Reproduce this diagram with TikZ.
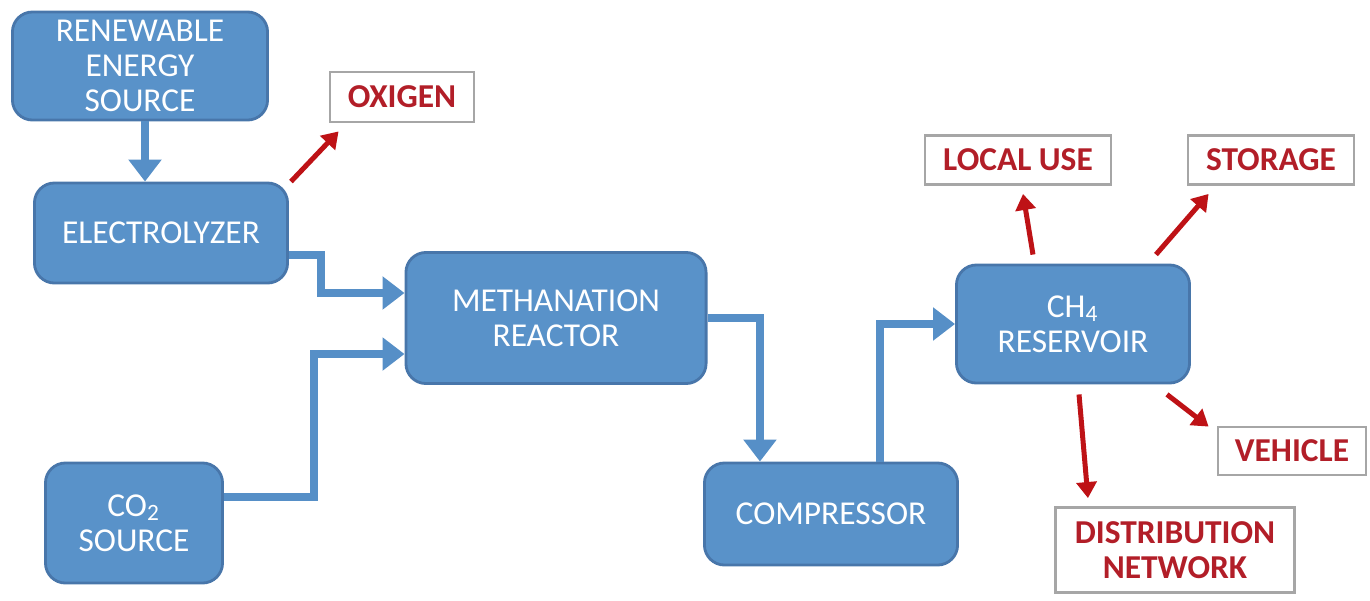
\documentclass[tikz,border=0pt]{standalone}
\usepackage{fontspec}
\setmainfont{Carlito}
\usepackage{tikz}
\usetikzlibrary{arrows.meta}
\definecolor{boxblue}{RGB}{89,146,201}
\definecolor{edgeblue}{RGB}{72,118,170}
\definecolor{flowblue}{RGB}{86,143,199}
\definecolor{prodred}{RGB}{190,18,22}
\definecolor{labred}{RGB}{178,30,40}

\begin{document}
\begin{tikzpicture}[x=0.01cm,y=-0.01cm,
    block/.style={draw=edgeblue,line width=0.8pt,fill=boxblue,rounded corners=0.2cm,
      text=white,align=center,inner sep=0pt,font=\fontsize{9.5}{9.9}\selectfont},
    product/.style={draw=gray!70,line width=0.8pt,fill=white,text=labred,align=center,
      inner sep=0pt,font=\bfseries\fontsize{9.5}{9.8}\selectfont},
    flow/.style={draw=flowblue,line width=0.085cm,-{Triangle[width=0.32cm,length=0.22cm]}},
    prod/.style={draw=prodred,line width=0.05cm,-{Triangle[width=0.2cm,length=0.16cm]}}]
  \useasboundingbox (0,0) rectangle (1370,600);
  \node[block,minimum width=2.55cm,minimum height=1.08cm] (renew) at (140,66) {RENEWABLE\\ENERGY\\SOURCE};
  \node[block,minimum width=2.53cm,minimum height=1.00cm] (elec) at (161,233) {ELECTROLYZER};
  \node[block,minimum width=3.00cm,minimum height=1.31cm] (meth) at (556,318) {METHANATION\\REACTOR};
  \node[block,minimum width=1.77cm,minimum height=1.20cm] (co2) at (134,523) {CO\textsubscript{2}\\SOURCE};
  \node[block,minimum width=2.53cm,minimum height=1.02cm] (comp) at (831,514) {COMPRESSOR};
  \node[block,minimum width=2.33cm,minimum height=1.18cm] (res) at (1073,324) {CH\textsubscript{4}\\RESERVOIR};
  \node[product,minimum width=1.44cm,minimum height=0.50cm] (oxy) at (402,97) {OXIGEN};
  \node[product,minimum width=1.86cm,minimum height=0.49cm] (local) at (1018,160) {LOCAL USE};
  \node[product,minimum width=1.66cm,minimum height=0.49cm] (stor) at (1271,160) {STORAGE};
  \node[product,minimum width=1.48cm,minimum height=0.48cm] (veh) at (1292,451) {VEHICLE};
  \node[product,minimum width=2.39cm,minimum height=0.85cm] (dist) at (1175,550) {DISTRIBUTION\\NETWORK};

  \draw[flow] ([xshift=0.05cm]renew.south) -- ([xshift=0.05cm]renew.south |- elec.north);
  \draw[flow] ([yshift=-0.22cm]elec.east) -- ++(0.32cm,0) |- ([yshift=0.25cm]meth.west);
  \draw[flow] ([yshift=0.26cm]co2.east) -- ++(0.9cm,0) |- ([yshift=-0.36cm]meth.west);
  \draw[flow] (meth.east) -| ([xshift=-0.71cm]comp.north);
  \draw[flow] ([xshift=0.49cm]comp.north) |- (res.west);

  \draw[prod] ([xshift=0.02cm]elec.north east) -- ([xshift=0.1cm,yshift=-0.08cm]oxy.south west);
  \draw[prod] ([xshift=-0.4cm,yshift=0.09cm]res.north) -- ([xshift=0.05cm,yshift=-0.08cm]local.south);
  \draw[prod] ([xshift=-0.35cm,yshift=0.09cm]res.north east) -- ([xshift=0.22cm,yshift=-0.08cm]stor.south west);
  \draw[prod] ([xshift=-0.24cm,yshift=-0.1cm]res.south east) -- ([xshift=-0.08cm,yshift=-0.01cm]veh.north west);
  \draw[prod] ([xshift=0.06cm,yshift=-0.1cm]res.south) -- ([xshift=-0.87cm,yshift=0.08cm]dist.north);
\end{tikzpicture}
\end{document}
